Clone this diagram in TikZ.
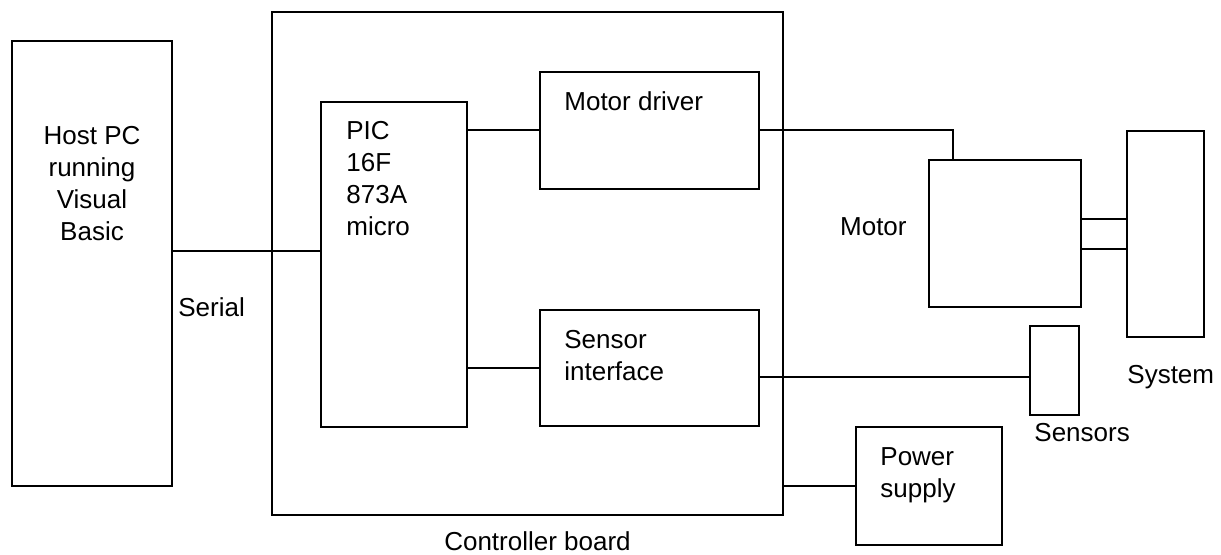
\documentclass[tikz,border=0pt]{standalone}
\usepackage{fontspec}
\setmainfont{Liberation Sans}
\usetikzlibrary{positioning, calc}

\begin{document}
\begin{tikzpicture}[
        x=0.5pt, y=-0.5pt,
        font=\fontsize{13}{16}\selectfont,
        block/.style={rectangle, draw=black, line width=1.1pt,
                      inner sep=0pt, outer sep=0pt},
        blocktext/.style={inner sep=0pt, anchor=north west, align=left},
        tag/.style={inner sep=0pt, anchor=base west},
        wire/.style={-, line width=1pt, black},
    ]
    \useasboundingbox (0,0) rectangle (1221,555);

    % ===== Host PC =====
    \node[block, minimum width=80pt, minimum height=222.5pt] (host) at (92,263.5) {};
    \node[inner sep=0pt, anchor=north, align=center] (hostText)
        at ($(host.north)+(0,85)$) {Host PC\\running\\Visual\\Basic};

    % ===== Controller board =====
    \node[block, minimum width=255.5pt, minimum height=251.5pt] (board) at (527.5,263.5) {};
    \node[tag, anchor=base] (boardText) at ($(board.south)+(10,36)$) {Controller board};

    \node[block, minimum width=73pt, minimum height=162.5pt] (pic) at (394,264.5) {};
    \node[blocktext] (picText) at ($(pic.north west)+(25,19)$) {PIC\\16F\\873A\\micro};

    \node[block, minimum width=109.5pt, minimum height=58.5pt] (driver) at (649.5,130.5) {};
    \node[blocktext] (driverText) at ($(driver.north west)+(24,19)$) {Motor driver};

    \node[block, minimum width=109.5pt, minimum height=58pt] (sensorif) at (649.5,368) {};
    \node[blocktext] (sensorifText) at ($(sensorif.north west)+(24,20)$) {Sensor\\interface};

    % ===== Outside the board =====
    \node[block, minimum width=76pt, minimum height=73.5pt] (motor) at (1005,233.5) {};
    \node[tag, anchor=base east] (motorText) at ($(motor.west)+(-22,2.5)$) {Motor};

    \node[block, minimum width=38.5pt, minimum height=103pt] (system) at (1165.5,234) {};
    \node[tag] (systemText) at ($(system.south west)+(0,47)$) {System};

    \node[block, minimum width=24.5pt, minimum height=44.5pt] (sensors) at (1054.5,370.5) {};
    \node[tag] (sensorsText) at ($(sensors.south west)+(4,27)$) {Sensors};

    \node[block, minimum width=73pt, minimum height=59pt] (power) at (929,486) {};
    \node[blocktext] (powerText) at ($(power.north west)+(24,20)$) {Power\\supply};

    % ===== Wires =====
    \draw[wire] ($(host.east)+(0,-12.5)$) coordinate (serialPt) -- (serialPt -| pic.west);
    \node[tag] (serialText) at ($(host.east)+(6,53.5)$) {Serial};

    \draw[wire] (pic.east |- driver.west) -- (driver.west);
    \draw[wire] (pic.east |- sensorif.west) -- (sensorif.west);
    \draw[wire] (driver.east) -| ($(motor.north west)+(24,0)$);
    \draw[wire] ($(motor.east)+(0,-14.5)$) coordinate (shaftA) -- (shaftA -| system.west);
    \draw[wire] ($(motor.east)+(0,15.5)$) coordinate (shaftB) -- (shaftB -| system.west);
    \draw[wire] ($(sensorif.east)+(0,9)$) coordinate (sensPt) -- (sensPt -| sensors.west);
    \draw[wire] (board.east |- power.west) -- (power.west);

\end{tikzpicture}
\end{document}
